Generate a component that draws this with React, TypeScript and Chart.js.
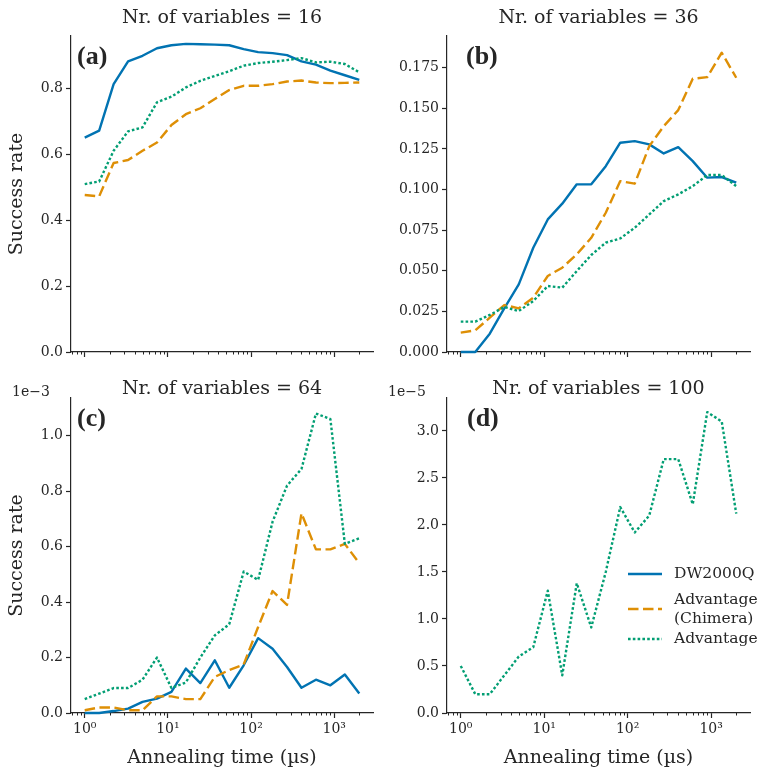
import React, { useEffect, useRef } from "react";
import { Chart, registerables } from "chart.js";
Chart.register(...registerables);

// ---------------- DATA ----------------
// Annealing times (µs)
const annealingTimes = [1, 1.492, 2.226, 3.321, 4.954, 7.391, 11.03, 16.45, 24.54, 36.62, 54.63, 81.5, 121.6, 181.4, 270.6, 403.7, 602.3, 898.6, 1341, 2000];

// 16 variables
const dw16 = [0.650, 0.671, 0.812, 0.881, 0.898, 0.921, 0.930, 0.934, 0.933, 0.932, 0.930, 0.918, 0.909, 0.906, 0.900, 0.881, 0.871, 0.853, 0.839, 0.825];
const chim16 = [0.476, 0.472, 0.573, 0.582, 0.610, 0.635, 0.688, 0.721, 0.739, 0.767, 0.794, 0.807, 0.807, 0.812, 0.820, 0.823, 0.817, 0.815, 0.816, 0.817];
const adv16 = [0.509, 0.517, 0.610, 0.669, 0.681, 0.757, 0.774, 0.802, 0.822, 0.837, 0.851, 0.868, 0.876, 0.880, 0.885, 0.891, 0.878, 0.880, 0.873, 0.848];

// 36 variables
const dw36 = [0.0, 0.0, 0.0113, 0.0269, 0.0416, 0.0642, 0.0816, 0.0913, 0.1032, 0.1032, 0.1144, 0.1288, 0.1298, 0.1278, 0.1222, 0.1261, 0.1175, 0.1073, 0.1077, 0.1042];
const chim36 = [0.0119, 0.0133, 0.0211, 0.0289, 0.0269, 0.0334, 0.0468, 0.0519, 0.0601, 0.0703, 0.0857, 0.1052, 0.1036, 0.1267, 0.139, 0.1489, 0.1682, 0.1692, 0.1842, 0.1688];
const adv36 = [0.0187, 0.0187, 0.0228, 0.0277, 0.0252, 0.0314, 0.0406, 0.0396, 0.0498, 0.0597, 0.0673, 0.0699, 0.0765, 0.0847, 0.0929, 0.097, 0.1021, 0.1089, 0.1089, 0.1021];

// 64 variables (in units of 1e-3)
const dw64 = [0.0, 0.0, 0.007, 0.016, 0.04, 0.052, 0.076, 0.16, 0.108, 0.19, 0.091, 0.172, 0.27, 0.232, 0.166, 0.091, 0.12, 0.10, 0.139, 0.07];
const chim64 = [0.01, 0.02, 0.02, 0.01, 0.01, 0.06, 0.06, 0.05, 0.05, 0.13, 0.155, 0.175, 0.31, 0.44, 0.39, 0.72, 0.59, 0.59, 0.61, 0.54];
const adv64 = [0.05, 0.07, 0.09, 0.09, 0.12, 0.20, 0.09, 0.11, 0.20, 0.28, 0.32, 0.51, 0.48, 0.69, 0.82, 0.88, 1.08, 1.06, 0.61, 0.63];

// 100 variables (in units of 1e-5)
const adv100 = [0.5, 0.2, 0.2, 0.4, 0.6, 0.7, 1.3, 0.4, 1.38, 0.91, 1.5, 2.19, 1.92, 2.1, 2.7, 2.7, 2.22, 3.2, 3.1, 2.12];

const seriesNames = ["DW2000Q", "Advantage\n(Chimera)", "Advantage"];
const panelTitles = ["Nr. of variables = 16", "Nr. of variables = 36", "Nr. of variables = 64", "Nr. of variables = 100"];
const panelLetters = ["(a)", "(b)", "(c)", "(d)"];
const offsetLabels = ["", "", "1e\u22123", "1e\u22125"];
const xTickValues = [1, 10, 100, 1000];
const xTickLabels = ["10\u2070", "10\u00b9", "10\u00b2", "10\u00b3"];
const yLabel = "Success rate";
const xLabel = "Annealing time (\u00b5s)";

// ---------------- STYLE / LAYOUT ----------------
const W = 760;
const H = 772;
const Y_AXIS_W = 60;
const X_AXIS_H = 30;
const X_MIN = 0.684;
const X_MAX = 2924;
const TEXT = "#262626";
const SERIF = '"DejaVu Serif", serif';
const COLORS = ["#0173b2", "#de8f05", "#029e73"];
const DASHES: number[][] = [[], [10.5, 4.5], [2.6, 2.2]];
const LINE_W = 2.4;

type PanelSpec = {
  idx: number;
  series: (number[] | null)[];
  yMax: number;
  yStep: number;
  yDecimals: number;
  box: { l: number; r: number; t: number; b: number };
  titleY: number;
  letterDx: number;
  showXLabels: boolean;
  showYTitle: boolean;
  legend: boolean;
};

const panels: PanelSpec[] = [
  { idx: 0, series: [dw16, chim16, adv16], yMax: 0.958, yStep: 0.2, yDecimals: 1,
    box: { l: 71, r: 373, t: 36, b: 352 }, titleY: 23, letterDx: 6, showXLabels: false, showYTitle: true, legend: false },
  { idx: 1, series: [dw36, chim36, adv36], yMax: 0.1945, yStep: 0.025, yDecimals: 3,
    box: { l: 447, r: 750, t: 36, b: 352 }, titleY: 23, letterDx: 19, showXLabels: false, showYTitle: false, legend: false },
  { idx: 2, series: [dw64, chim64, adv64], yMax: 1.136, yStep: 0.2, yDecimals: 1,
    box: { l: 71, r: 373, t: 398, b: 713 }, titleY: 394, letterDx: 6, showXLabels: true, showYTitle: true, legend: false },
  { idx: 3, series: [null, null, adv100], yMax: 3.35, yStep: 0.5, yDecimals: 1,
    box: { l: 447, r: 750, t: 398, b: 713 }, titleY: 394, letterDx: 20, showXLabels: true, showYTitle: false, legend: true },
];

const minorTicks: number[] = [];
for (let e = -1; e <= 3; e++) {
  for (let k = 2; k <= 9; k++) minorTicks.push(k * Math.pow(10, e));
}

function makeDecor(p: PanelSpec) {
  return {
    id: "decor" + p.idx,
    afterDraw(chart: any) {
      const ctx: CanvasRenderingContext2D = chart.ctx;
      const area = chart.chartArea;
      const xs = chart.scales.x;
      ctx.save();
      // minor ticks
      ctx.strokeStyle = TEXT;
      ctx.lineWidth = 1;
      for (const v of minorTicks) {
        if (v < xs.min || v > xs.max) continue;
        const px = Math.round(xs.getPixelForValue(v)) + 0.5;
        ctx.beginPath();
        ctx.moveTo(px, area.bottom);
        ctx.lineTo(px, area.bottom + 2.5);
        ctx.stroke();
      }
      ctx.fillStyle = TEXT;
      // title
      ctx.font = `19px ${SERIF}`;
      ctx.textAlign = "center";
      ctx.textBaseline = "alphabetic";
      ctx.fillText(panelTitles[p.idx], (area.left + area.right) / 2, p.titleY);
      // panel letter
      ctx.font = `bold 26px "Liberation Serif", serif`;
      ctx.textAlign = "left";
      ctx.fillText(panelLetters[p.idx], area.left + p.letterDx, area.top + 28);
      // offset (exponent) label
      if (offsetLabels[p.idx]) {
        ctx.font = `14px ${SERIF}`;
        ctx.textAlign = "left";
        ctx.fillText(offsetLabels[p.idx], area.left - 59, area.top - 2);
      }
      // y-axis title
      if (p.showYTitle) {
        ctx.save();
        ctx.translate(17, (area.top + area.bottom) / 2);
        ctx.rotate(-Math.PI / 2);
        ctx.font = `19px ${SERIF}`;
        ctx.textAlign = "center";
        ctx.textBaseline = "middle";
        ctx.fillText(yLabel, 0, 0);
        ctx.restore();
      }
      // x-axis title
      if (p.showXLabels) {
        ctx.font = `19px ${SERIF}`;
        ctx.textAlign = "center";
        ctx.textBaseline = "alphabetic";
        ctx.fillText(xLabel, (area.left + area.right) / 2, 763);
      }
      // legend
      if (p.legend) {
        const rows = [574, 609, 639];
        ctx.font = `15.5px ${SERIF}`;
        ctx.textAlign = "left";
        ctx.textBaseline = "middle";
        seriesNames.forEach((name, i) => {
          ctx.save();
          ctx.strokeStyle = COLORS[i];
          ctx.lineWidth = LINE_W;
          ctx.setLineDash(DASHES[i]);
          ctx.beginPath();
          ctx.moveTo(628, rows[i]);
          ctx.lineTo(662, rows[i]);
          ctx.stroke();
          ctx.restore();
          const lines = name.split("\n");
          const lh = 19;
          lines.forEach((ln, j) => {
            ctx.fillText(ln, 674, rows[i] - ((lines.length - 1) * lh) / 2 + j * lh);
          });
        });
      }
      ctx.restore();
    },
  };
}

function Panel({ p }: { p: PanelSpec }) {
  const ref = useRef<HTMLCanvasElement>(null);
  useEffect(() => {
    const datasets: any[] = [];
    p.series.forEach((s, i) => {
      if (!s) return;
      datasets.push({
        label: seriesNames[i],
        data: annealingTimes.map((x, k) => ({ x, y: s[k] })),
        borderColor: COLORS[i],
        backgroundColor: COLORS[i],
        borderWidth: LINE_W,
        borderDash: DASHES[i],
        borderCapStyle: "butt",
        borderJoinStyle: "round",
        pointRadius: 0,
        tension: 0,
        fill: false,
        clip: false,
        order: 3 - i,
      });
    });
    const tickFont = { family: SERIF, size: 14 };
    const chart = new Chart(ref.current as HTMLCanvasElement, {
      type: "line",
      data: { datasets },
      options: {
        animation: false,
        responsive: false,
        maintainAspectRatio: false,
        devicePixelRatio: 1,
        events: [],
        layout: {
          padding: {
            left: p.box.l - Y_AXIS_W,
            right: W - p.box.r,
            top: p.box.t,
            bottom: H - p.box.b - X_AXIS_H,
          },
        },
        plugins: { legend: { display: false }, tooltip: { enabled: false }, title: { display: false } },
        scales: {
          x: {
            type: "logarithmic",
            min: X_MIN,
            max: X_MAX,
            afterBuildTicks: (s: any) => {
              s.ticks = xTickValues.map((v) => ({ value: v }));
            },
            afterFit: (s: any) => {
              s.height = X_AXIS_H;
            },
            grid: { display: true, drawOnChartArea: false, drawTicks: true, tickLength: 5, tickColor: TEXT, tickWidth: 1.2 },
            border: { display: true, color: TEXT, width: 1.2 },
            ticks: {
              display: p.showXLabels,
              autoSkip: false,
              maxRotation: 0,
              minRotation: 0,
              padding: 3,
              color: TEXT,
              font: tickFont,
              callback: (_v: any, i: number) => xTickLabels[i],
            },
          },
          y: {
            type: "linear",
            min: 0,
            max: p.yMax,
            afterFit: (s: any) => {
              s.width = Y_AXIS_W;
            },
            grid: { display: true, drawOnChartArea: false, drawTicks: true, tickLength: 5, tickColor: TEXT, tickWidth: 1.2 },
            border: { display: true, color: TEXT, width: 1.2 },
            ticks: {
              stepSize: p.yStep,
              includeBounds: false,
              padding: 3,
              color: TEXT,
              font: tickFont,
              callback: (v: any) => Number(v).toFixed(p.yDecimals),
            },
          },
        },
      } as any,
      plugins: [makeDecor(p)],
    });
    return () => chart.destroy();
  }, []);
  return (
    <canvas
      ref={ref}
      width={W}
      height={H}
      style={{ position: "absolute", left: 0, top: 0, width: W, height: H }}
    />
  );
}

export default function App() {
  return (
    <div style={{ position: "absolute", left: 0, top: 0, width: W, height: H, background: "#ffffff" }}>
      {panels.map((p) => (
        <Panel key={p.idx} p={p} />
      ))}
    </div>
  );
}
